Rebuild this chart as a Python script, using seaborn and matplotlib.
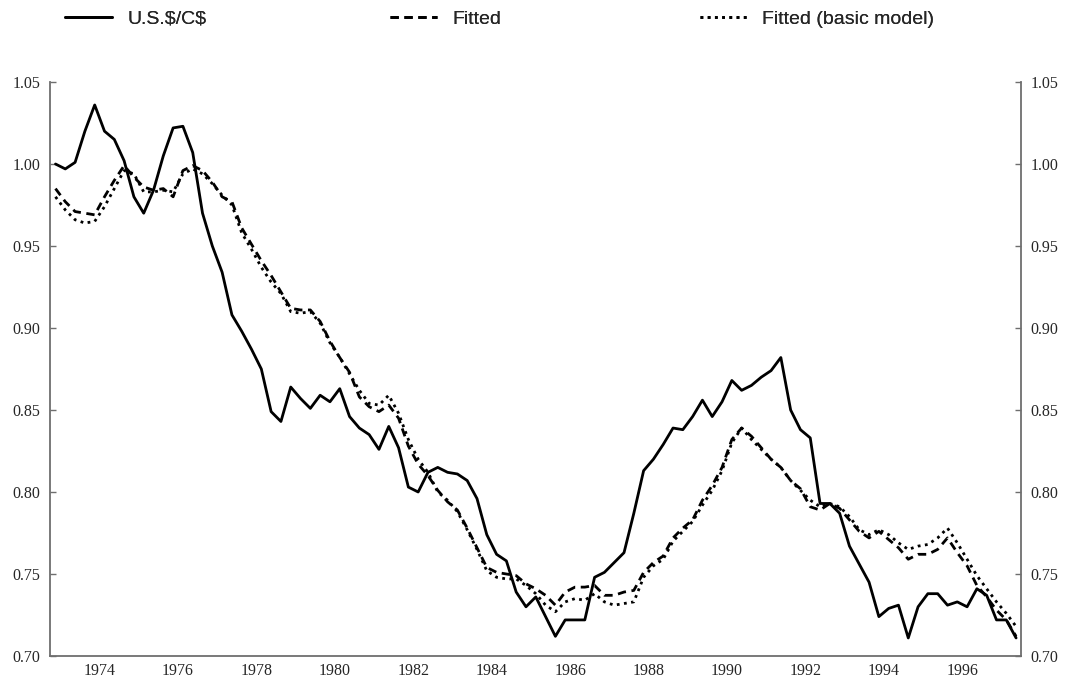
import numpy as np
import pandas as pd
import matplotlib
matplotlib.use("Agg")
import matplotlib.pyplot as plt
import seaborn as sns
from matplotlib.lines import Line2D
from matplotlib.ticker import FixedLocator, FixedFormatter

sns.set_style("white")

# --- quarterly data, 1973Q2 .. 1997Q4 ---
start_year = 1973.375
exch_rate = [1.000, 0.997, 1.001, 1.020, 1.036, 1.020, 1.015, 1.002, 0.980, 0.970,
             0.984, 1.005, 1.022, 1.023, 1.007, 0.970, 0.950, 0.934, 0.908, 0.898,
             0.887, 0.875, 0.849, 0.843, 0.864, 0.857, 0.851, 0.859, 0.855, 0.863,
             0.846, 0.839, 0.835, 0.826, 0.840, 0.827, 0.803, 0.800, 0.812, 0.815,
             0.812, 0.811, 0.807, 0.796, 0.774, 0.762, 0.758, 0.739, 0.730, 0.736,
             0.724, 0.712, 0.722, 0.722, 0.722, 0.748, 0.751, 0.757, 0.763, 0.787,
             0.813, 0.820, 0.829, 0.839, 0.838, 0.846, 0.856, 0.846, 0.855, 0.868,
             0.862, 0.865, 0.870, 0.874, 0.882, 0.850, 0.838, 0.833, 0.793, 0.793,
             0.787, 0.767, 0.756, 0.745, 0.724, 0.729, 0.731, 0.711, 0.730, 0.738,
             0.738, 0.731, 0.733, 0.730, 0.741, 0.737, 0.722, 0.722, 0.711]
fitted = [0.985, 0.977, 0.971, 0.970, 0.969, 0.980, 0.990, 0.999, 0.992, 0.986,
          0.984, 0.985, 0.980, 0.996, 0.999, 0.996, 0.989, 0.980, 0.977, 0.961,
          0.951, 0.941, 0.932, 0.922, 0.912, 0.911, 0.911, 0.904, 0.892, 0.882,
          0.873, 0.858, 0.852, 0.849, 0.853, 0.845, 0.828, 0.817, 0.810, 0.801,
          0.794, 0.789, 0.778, 0.766, 0.754, 0.751, 0.750, 0.749, 0.744, 0.741,
          0.737, 0.731, 0.739, 0.742, 0.742, 0.743, 0.737, 0.737, 0.739, 0.740,
          0.751, 0.757, 0.761, 0.772, 0.778, 0.783, 0.795, 0.804, 0.815, 0.832,
          0.839, 0.834, 0.827, 0.820, 0.815, 0.807, 0.802, 0.791, 0.789, 0.793,
          0.790, 0.783, 0.776, 0.772, 0.776, 0.771, 0.766, 0.759, 0.762, 0.762,
          0.765, 0.772, 0.763, 0.755, 0.743, 0.736, 0.728, 0.722, 0.712]
fitted_basic = [0.980, 0.972, 0.966, 0.964, 0.965, 0.974, 0.985, 0.996, 0.994, 0.983,
                0.983, 0.984, 0.983, 0.994, 0.997, 0.994, 0.988, 0.981, 0.975, 0.958,
                0.948, 0.937, 0.928, 0.921, 0.910, 0.909, 0.910, 0.903, 0.891, 0.882,
                0.872, 0.862, 0.854, 0.853, 0.859, 0.848, 0.832, 0.820, 0.812, 0.800,
                0.795, 0.788, 0.777, 0.765, 0.752, 0.748, 0.747, 0.747, 0.743, 0.738,
                0.731, 0.727, 0.733, 0.735, 0.734, 0.738, 0.733, 0.731, 0.732, 0.733,
                0.748, 0.755, 0.759, 0.770, 0.776, 0.782, 0.792, 0.801, 0.813, 0.830,
                0.839, 0.832, 0.826, 0.820, 0.815, 0.807, 0.801, 0.795, 0.791, 0.793,
                0.791, 0.785, 0.777, 0.774, 0.777, 0.774, 0.769, 0.765, 0.767, 0.768,
                0.772, 0.778, 0.769, 0.759, 0.749, 0.741, 0.733, 0.726, 0.718]

series_names = ["U.S.$/C$", "Fitted", "Fitted (basic model)"]
year_labels = [str(y) for y in range(1974, 1997, 2)]
y_ticks = [0.70, 0.75, 0.80, 0.85, 0.90, 0.95, 1.00, 1.05]

t = start_year + 0.25 * np.arange(len(exch_rate))
df = pd.DataFrame({"t": np.tile(t, 3),
                   "value": exch_rate + fitted + fitted_basic,
                   "series": np.repeat(series_names, len(t))})

dash_styles = {"U.S.$/C$": "", "Fitted": (3, 2), "Fitted (basic model)": (1, 1.6)}

fig = plt.figure(figsize=(10.65, 6.77), dpi=100)
ax = fig.add_axes([50 / 1065, 21 / 677, 971 / 1065, 574 / 677])

sns.lineplot(data=df, x="t", y="value", hue="series", style="series",
             palette=["black"] * 3, dashes=dash_styles, linewidth=2.0,
             legend=False, ax=ax)

ax.set_xlim(1973.235, 1998.0)
ax.set_ylim(0.70, 1.05)
ax.set_xlabel("")
ax.set_ylabel("")

spine_col = "#6e6e6e"
for side in ["left", "right", "bottom"]:
    ax.spines[side].set_visible(True)
    ax.spines[side].set_color(spine_col)
    ax.spines[side].set_linewidth(1.3)
ax.spines["top"].set_visible(False)

# yearly tick marks, labels centred in the even years
ax.xaxis.set_major_locator(FixedLocator(np.arange(1974, 1998)))
ax.xaxis.set_major_formatter(FixedFormatter([""] * 24))
ax.xaxis.set_minor_locator(FixedLocator(np.arange(1974.5, 1997, 2)))
ax.xaxis.set_minor_formatter(FixedFormatter(year_labels))
ax.tick_params(axis="x", which="major", direction="in", length=4, width=1, color=spine_col)
ax.tick_params(axis="x", which="minor", length=0, pad=5)

ax.set_yticks(y_ticks)
ax.set_yticklabels([f"{v:.2f}" for v in y_ticks])
ax.tick_params(axis="y", direction="in", length=4, width=1, color=spine_col,
               left=True, right=True, labelleft=True, labelright=True, pad=7)

for lab in ax.get_xticklabels(which="both") + ax.get_yticklabels(which="both"):
    lab.set_fontfamily("Liberation Serif")
    lab.set_fontsize(11.5)
for lab in ax.yaxis.get_ticklabels(which="both"):
    lab.set_fontfamily("Liberation Serif")

# legend in three columns along the top
legend_x = [0.045, 0.350, 0.641]
for name, lx in zip(series_names, legend_x):
    ls = dash_styles[name]
    h = Line2D([], [], color="black", linewidth=2.0)
    if ls:
        h.set_dashes(ls)
    leg = fig.legend(handles=[h], labels=[name.replace("$", r"\$")], loc="center left",
                     bbox_to_anchor=(lx, 0.972), frameon=False, handlelength=2.4,
                     handletextpad=0.8, prop={"family": "Liberation Sans", "size": 14})
    fig.add_artist(leg)

fig.savefig("out.png", dpi=100)
